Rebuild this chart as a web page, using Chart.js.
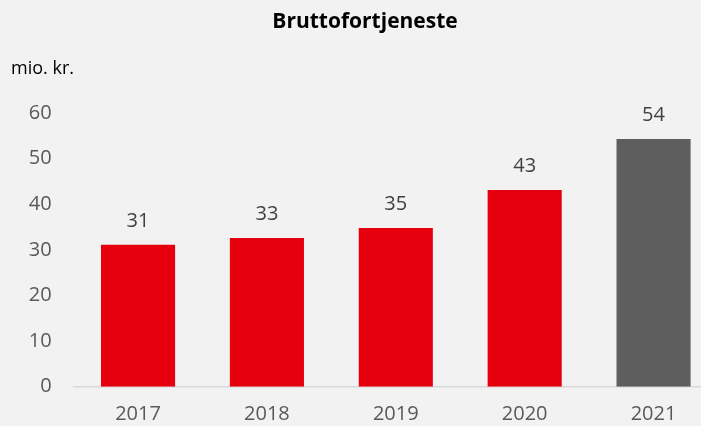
<!DOCTYPE html>
<html>
<head>
<meta charset="utf-8">
<script src="https://cdn.jsdelivr.net/npm/chart.js@4/dist/chart.umd.min.js"></script>
<style>
html,body{margin:0;padding:0;background:#F2F2F2;overflow:hidden;width:701px;height:426px;}
#wrap{width:718px;height:426px;}
</style>
</head>
<body>
<div id="wrap"><canvas id="c" width="718" height="426"></canvas></div>
<script>
const categories = ['2017', '2018', '2019', '2020', '2021'];
const values = [31.1, 32.6, 34.8, 43.1, 54.3];
const barColors = ['#E6000E', '#E6000E', '#E6000E', '#E6000E', '#5E5E5E'];
const yTicks = [0, 10, 20, 30, 40, 50, 60];
const titleText = 'Bruttofortjeneste';
const unitText = 'mio. kr.';

const FONT = '"Open Sans", Lato, sans-serif';

const textPlugin = {
  id: 'texts',
  afterDatasetsDraw(chart) {
    const ctx = chart.ctx;
    ctx.save();
    ctx.fillStyle = '#000';
    ctx.font = 'bold 21px ' + FONT;
    ctx.textAlign = 'center';
    ctx.textBaseline = 'alphabetic';
    ctx.fillText(titleText, 365, 27.5);
    ctx.font = '18px ' + FONT;
    ctx.textAlign = 'left';
    ctx.fillText(unitText, 11, 74);
    const meta = chart.getDatasetMeta(0);
    ctx.fillStyle = '#404040';
    ctx.font = '20px ' + FONT;
    ctx.textAlign = 'center';
    meta.data.forEach((bar, i) => {
      ctx.fillText(String(Math.round(values[i])), bar.x, bar.y - 18);
    });
    ctx.restore();
  }
};

new Chart(document.getElementById('c'), {
  type: 'bar',
  data: {
    labels: categories,
    datasets: [{
      data: values,
      backgroundColor: barColors,
      borderWidth: 0,
      barPercentage: 0.575,
      categoryPercentage: 1.0
    }]
  },
  options: {
    responsive: false,
    animation: false,
    layout: { padding: { top: 113, left: 0, right: 0, bottom: 0 } },
    plugins: { legend: { display: false }, tooltip: { enabled: false }, title: { display: false } },
    scales: {
      x: {
        grid: { display: false, drawTicks: false },
        border: { display: true, color: '#D9D9D9', width: 1.5 },
        ticks: { color: '#595959', font: { size: 20, family: FONT }, padding: 16 },
        afterFit(s) { s.height = 39.3; }
      },
      y: {
        min: 0, max: 60,
        afterBuildTicks(s) { s.ticks = yTicks.map(v => ({ value: v })); },
        grid: { display: false, drawTicks: false },
        border: { display: false },
        ticks: { color: '#595959', font: { size: 20, family: FONT }, padding: 22 },
        afterFit(s) { s.width = 73.6; }
      }
    }
  },
  plugins: [textPlugin]
});
</script>
</body>
</html>
